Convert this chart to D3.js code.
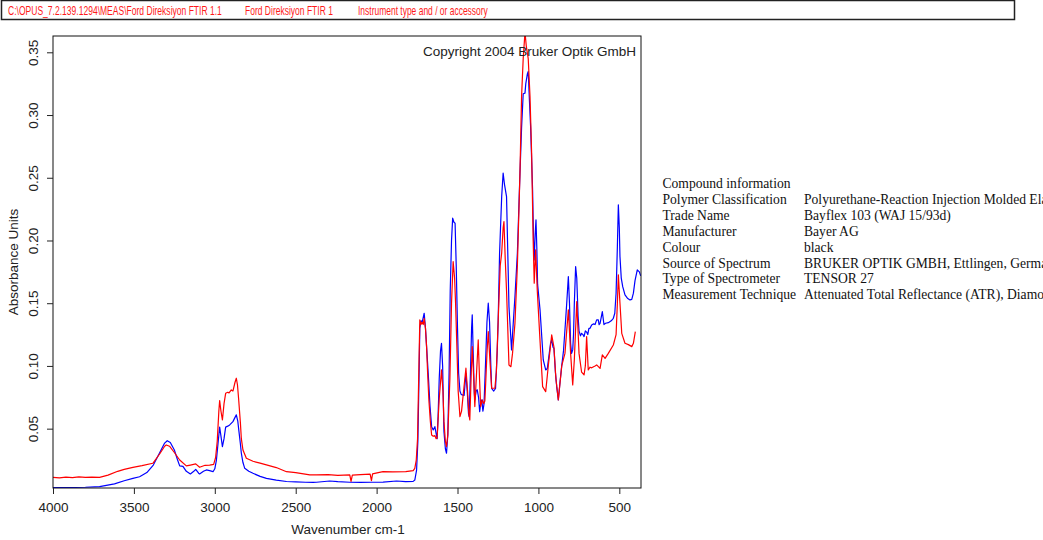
<!DOCTYPE html>
<html>
<head>
<meta charset="utf-8">
<script src="https://cdn.jsdelivr.net/npm/d3@7"></script>
<style>
  html, body { margin: 0; padding: 0; background: #fff; overflow: hidden; }
  svg { display: block; }
</style>
</head>
<body>
<svg id="chart" width="1043" height="540"></svg>
<script>
// Spectrum 1 (blue): wavenumber (cm-1) and absorbance
const blueWavenumber = [4000,3900,3800,3712,3620,3560,3506,3465,3420,3380,3340,3310,3294,3275,3250,3230,3217,3197,3176,3151,3130,3118,3100,3094,3070,3052,3032,3011,3000,2990,2975,2970,2962,2953,2943,2933,2920,2908,2888,2875,2867,2858,2851,2842,2836,2826,2815,2790,2764,2720,2681,2620,2557,2500,2440,2393,2372,2290,2240,2166,2100,2032,1960,1877,1820,1774,1764,1753,1745,1738,1733,1726,1718,1706,1698,1691,1681,1670,1660,1650,1640,1632,1626,1620,1613,1605,1599,1592,1584,1575,1568,1560,1552,1545,1537,1530,1522,1515,1508,1500,1493,1485,1478,1471,1459,1452,1448,1440,1432,1428,1420,1413,1409,1403,1396,1393,1385,1378,1370,1363,1357,1350,1343,1336,1326,1318,1310,1302,1294,1289,1276,1265,1255,1249,1240,1227,1218,1210,1197,1182,1166,1145,1130,1114,1104,1094,1083,1078,1068,1063,1055,1048,1042,1036,1030,1026,1020,1015,1010,1005,990,970,955,945,939,925,918,910,904,895,887,877,868,856,845,836,825,815,808,801,795,788,783,778,770,763,755,749,740,733,725,718,710,702,695,688,681,671,661,650,640,630,625,619,605,595,585,568,550,537,528,520,512,506,500,496,488,479,465,450,434,423,413,403,389,376,368];
const blueAbsorbance = [0.0030,0.0031,0.0033,0.0038,0.0060,0.0085,0.0104,0.0117,0.0150,0.0210,0.0310,0.0385,0.0404,0.0390,0.0330,0.0250,0.0203,0.0200,0.0160,0.0139,0.0160,0.0176,0.0145,0.0139,0.0160,0.0171,0.0165,0.0157,0.0180,0.0250,0.0450,0.0512,0.0440,0.0356,0.0420,0.0512,0.0520,0.0530,0.0556,0.0590,0.0610,0.0560,0.0480,0.0380,0.0304,0.0230,0.0184,0.0160,0.0144,0.0120,0.0104,0.0090,0.0079,0.0076,0.0073,0.0072,0.0073,0.0083,0.0078,0.0073,0.0072,0.0073,0.0074,0.0083,0.0078,0.0080,0.0090,0.0170,0.0400,0.0900,0.1300,0.1360,0.1350,0.1420,0.1300,0.1150,0.0940,0.0680,0.0516,0.0490,0.0516,0.0460,0.0420,0.0600,0.0900,0.1120,0.1180,0.1000,0.0480,0.0340,0.0304,0.0450,0.0950,0.1600,0.2000,0.2178,0.2145,0.2138,0.1800,0.1300,0.0940,0.0800,0.0775,0.0769,0.0766,0.0880,0.0940,0.0800,0.0620,0.0596,0.0950,0.1300,0.1407,0.1100,0.0780,0.0729,0.0800,0.0810,0.0750,0.0636,0.0700,0.0729,0.0640,0.0700,0.1050,0.1350,0.1500,0.1350,0.1000,0.0822,0.0800,0.0820,0.1100,0.1350,0.1900,0.2350,0.2537,0.2450,0.2350,0.1473,0.1128,0.1553,0.1900,0.2537,0.2900,0.3170,0.3175,0.3250,0.3330,0.3347,0.3100,0.2900,0.2650,0.2400,0.2000,0.1845,0.2050,0.2165,0.1950,0.1650,0.1447,0.1048,0.0968,0.0980,0.1040,0.1180,0.1207,0.1150,0.1140,0.0950,0.0835,0.0729,0.0850,0.1000,0.1120,0.1287,0.1500,0.1712,0.1500,0.1180,0.1100,0.1128,0.1250,0.1500,0.1792,0.1700,0.1400,0.1280,0.1240,0.1260,0.1250,0.1234,0.1280,0.1270,0.1250,0.1300,0.1300,0.1327,0.1335,0.1330,0.1367,0.1367,0.1330,0.1340,0.1433,0.1330,0.1340,0.1345,0.1360,0.1380,0.1420,0.1580,0.1950,0.2284,0.2100,0.1872,0.1700,0.1632,0.1566,0.1540,0.1526,0.1530,0.1580,0.1680,0.1766,0.1750,0.1718];

// Spectrum 2 (red): wavenumber (cm-1) and absorbance
const redWavenumber = [4000,3960,3920,3880,3840,3800,3760,3712,3660,3600,3560,3506,3450,3383,3340,3310,3300,3280,3250,3217,3176,3151,3118,3094,3060,3032,3007,2995,2985,2975,2970,2962,2953,2943,2933,2920,2912,2898,2888,2875,2867,2860,2853,2842,2836,2826,2805,2764,2720,2681,2620,2557,2500,2413,2372,2300,2240,2166,2158,2150,2100,2040,2032,2025,1990,1960,1900,1820,1774,1764,1755,1747,1740,1733,1726,1719,1712,1706,1698,1691,1685,1677,1668,1660,1650,1640,1632,1626,1613,1599,1590,1584,1575,1568,1560,1547,1537,1527,1518,1512,1505,1496,1485,1475,1465,1448,1438,1430,1424,1415,1409,1400,1393,1384,1372,1364,1357,1347,1338,1331,1326,1318,1310,1300,1289,1269,1260,1249,1236,1227,1218,1213,1205,1197,1182,1170,1160,1145,1130,1114,1104,1094,1083,1075,1063,1052,1042,1032,1026,1017,1007,990,974,955,939,918,904,892,877,856,836,815,801,788,778,763,749,733,718,710,702,692,681,671,650,640,619,605,588,568,537,520,512,506,496,485,465,444,423,413,401];
const redAbsorbance = [0.0112,0.0108,0.0114,0.0110,0.0115,0.0111,0.0113,0.0112,0.0130,0.0160,0.0175,0.0192,0.0205,0.0224,0.0300,0.0360,0.0370,0.0360,0.0310,0.0250,0.0203,0.0210,0.0219,0.0192,0.0208,0.0210,0.0215,0.0270,0.0400,0.0640,0.0724,0.0640,0.0569,0.0700,0.0782,0.0790,0.0785,0.0809,0.0800,0.0870,0.0902,0.0850,0.0740,0.0550,0.0420,0.0330,0.0264,0.0240,0.0225,0.0211,0.0190,0.0157,0.0150,0.0131,0.0131,0.0134,0.0128,0.0131,0.0080,0.0130,0.0133,0.0138,0.0085,0.0140,0.0150,0.0157,0.0155,0.0158,0.0165,0.0184,0.0250,0.0420,0.0900,0.1367,0.1330,0.1350,0.1330,0.1380,0.1300,0.1150,0.0950,0.0729,0.0560,0.0450,0.0440,0.0445,0.0420,0.0426,0.0740,0.0968,0.0800,0.0560,0.0400,0.0356,0.0450,0.0900,0.1500,0.1832,0.1700,0.1500,0.1200,0.0800,0.0596,0.0640,0.0769,0.0982,0.0800,0.0620,0.0569,0.0950,0.1154,0.0900,0.0676,0.0900,0.1207,0.0900,0.0676,0.0729,0.0700,0.0720,0.0860,0.1100,0.1274,0.1050,0.0822,0.0822,0.0950,0.1350,0.1800,0.1900,0.2100,0.2151,0.1850,0.1600,0.1008,0.0994,0.1100,0.1340,0.1800,0.2540,0.3150,0.3450,0.3660,0.3550,0.3450,0.3150,0.2700,0.1980,0.1660,0.1925,0.1600,0.1200,0.0835,0.0795,0.1000,0.1247,0.1150,0.0900,0.0729,0.1000,0.1100,0.1447,0.1100,0.0849,0.1050,0.1513,0.1100,0.0950,0.0928,0.1000,0.1234,0.0968,0.0990,0.0985,0.1000,0.1008,0.0980,0.1088,0.1060,0.1100,0.1167,0.1250,0.1500,0.1726,0.1500,0.1260,0.1181,0.1170,0.1154,0.1180,0.1274];

// Axis ticks
const xTicks = [4000, 3500, 3000, 2500, 2000, 1500, 1000, 500];
const yTicks = [0.05, 0.10, 0.15, 0.20, 0.25, 0.30, 0.35];

// Header and info panel text
const headerTexts = ["C:\\OPUS_7.2.139.1294\\MEAS\\Ford Direksiyon FTIR 1.1", "Ford Direksiyon FTIR 1", "Instrument type and / or accessory"];
const infoLabels = ["Compound information", "Polymer Classification", "Trade Name", "Manufacturer", "Colour", "Source of Spectrum", "Type of Spectrometer", "Measurement Technique"];
const infoValues = ["", "Polyurethane-Reaction Injection Molded Elastomer", "Bayflex 103 (WAJ 15/93d)", "Bayer AG", "black", "BRUKER OPTIK GMBH, Ettlingen, Germany", "TENSOR 27", "Attenuated Total Reflectance (ATR), Diamond"];

const svg = d3.select("#chart");
const plot = { left: 53, right: 641, top: 36, bottom: 488 };
const sans = "Liberation Sans, Arial, sans-serif";
const serif = "Liberation Serif, Times New Roman, serif";

const x = d3.scaleLinear().domain([4000, 366]).range([plot.left, plot.right]);
const y = d3.scaleLinear().domain([0.0027, 0.363]).range([plot.bottom, plot.top]);

// Header box with condensed red captions
svg.append("rect")
  .attr("x", 1.5).attr("y", 0.5).attr("width", 1013).attr("height", 19)
  .attr("fill", "none").attr("stroke", "#222").attr("stroke-width", 1.5);
const headerX = [8, 245, 358];
const headerW = [214, 88, 130];
headerTexts.forEach((t, i) => {
  const txt = svg.append("text").attr("x", 0).attr("y", 0)
    .attr("font-family", sans).attr("font-size", 12)
    .attr("fill", "#ff1a1a").text(t);
  const natural = txt.node().getComputedTextLength();
  txt.attr("transform", `translate(${headerX[i]},14.5) scale(${headerW[i] / natural},1)`);
});

// Clip for the spectra
svg.append("defs").append("clipPath").attr("id", "plotClip")
  .append("rect").attr("x", plot.left).attr("y", plot.top)
  .attr("width", plot.right - plot.left).attr("height", plot.bottom - plot.top);

const line = d3.line().x(d => x(d[0])).y(d => y(d[1]));
const blueData = blueWavenumber.map((w, i) => [w, blueAbsorbance[i]]);
const redData = redWavenumber.map((w, i) => [w, redAbsorbance[i]]);

const g = svg.append("g").attr("clip-path", "url(#plotClip)");
g.append("path").datum(blueData).attr("d", line)
  .attr("fill", "none").attr("stroke", "#0000ff").attr("stroke-width", 1.2).attr("stroke-linejoin", "round");
g.append("path").datum(redData).attr("d", line)
  .attr("fill", "none").attr("stroke", "#ff0000").attr("stroke-width", 1.2).attr("stroke-linejoin", "round");

// Plot frame
svg.append("rect")
  .attr("x", plot.left).attr("y", plot.top)
  .attr("width", plot.right - plot.left).attr("height", plot.bottom - plot.top)
  .attr("fill", "none").attr("stroke", "#111").attr("stroke-width", 1);

// X axis
const xAxis = d3.axisBottom(x).tickValues(xTicks).tickSize(6).tickPadding(8).tickFormat(d3.format("d"));
const gx = svg.append("g").attr("transform", `translate(0,${plot.bottom})`).call(xAxis);
gx.select(".domain").remove();
gx.selectAll("line").attr("stroke", "#222");
gx.selectAll("text").attr("font-family", sans).attr("font-size", 13.5).attr("fill", "#222");

// Y axis
const yAxis = d3.axisLeft(y).tickValues(yTicks).tickSize(6).tickFormat(d3.format(".2f"));
const gy = svg.append("g").attr("transform", `translate(${plot.left},0)`).call(yAxis);
gy.select(".domain").remove();
gy.selectAll("line").attr("stroke", "#222");
gy.selectAll("text")
  .attr("font-family", sans).attr("font-size", 13.5).attr("fill", "#222")
  .attr("x", null).attr("dy", null)
  .attr("text-anchor", "middle")
  .attr("transform", "translate(-15,0) rotate(-90)");

// Axis titles
svg.append("text").attr("x", 348).attr("y", 534).attr("text-anchor", "middle")
  .attr("font-family", sans).attr("font-size", 13.5).attr("fill", "#222")
  .text("Wavenumber cm-1");
svg.append("text").attr("transform", `translate(18,${(plot.top + plot.bottom) / 2}) rotate(-90)`)
  .attr("text-anchor", "middle")
  .attr("font-family", sans).attr("font-size", 13.5).attr("fill", "#222")
  .text("Absorbance Units");

// Copyright
svg.append("text").attr("x", 636).attr("y", 56).attr("text-anchor", "end")
  .attr("font-family", sans).attr("font-size", 13.5).attr("fill", "#222")
  .text("Copyright 2004 Bruker Optik GmbH");

// Compound information panel (runs past the right edge of the page)
infoLabels.forEach((t, i) => {
  const yy = 188 + i * 15.9;
  svg.append("text").attr("x", 662.5).attr("y", yy)
    .attr("font-family", serif).attr("font-size", 13.6).attr("fill", "#111")
    .text(t);
  if (infoValues[i]) {
    svg.append("text").attr("x", 804).attr("y", yy)
      .attr("font-family", serif).attr("font-size", 13.6).attr("fill", "#111")
      .text(infoValues[i]);
  }
});
</script>
</body>
</html>
